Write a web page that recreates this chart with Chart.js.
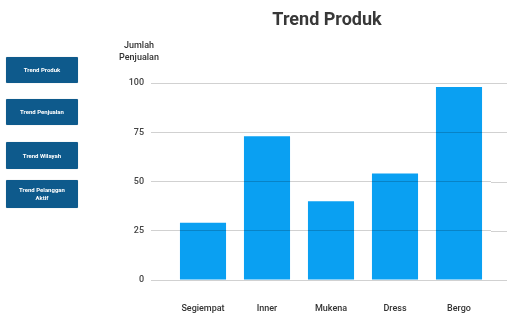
<!DOCTYPE html>
<html>
<head>
<meta charset="utf-8">
<script src="https://cdn.jsdelivr.net/npm/chart.js@4/dist/chart.umd.min.js"></script>
<style>
  html, body { margin: 0; padding: 0; background: #fff; }
  body { width: 507px; height: 321px; position: relative; overflow: hidden; font-family: Roboto, sans-serif; }
  #wrap { position: absolute; left: 0; top: 0; width: 507px; height: 321px; }
  .menu {
    position: absolute; left: 6px; width: 72px;
    background: #0e5a8c; color: #fff; border-radius: 1px;
    font-size: 6px; font-weight: 700; text-align: center;
    display: flex; align-items: center; justify-content: center; line-height: 8px;
    box-shadow: 0 0 1px rgba(0,0,0,0.3);
  }
</style>
</head>
<body>
<div id="wrap"><canvas id="chartProduk" width="507" height="321"></canvas></div>
<div class="menu" style="top:57px;height:26px">Trend Produk</div>
<div class="menu" style="top:99px;height:26px">Trend Penjualan</div>
<div class="menu" style="top:142px;height:27px">Trend Wilayah</div>
<div class="menu" style="top:180px;height:28px">Trend Pelanggan<br>Aktif</div>
<script>
// Data produk
const produk = ['Segiempat', 'Inner', 'Mukena', 'Dress', 'Bergo'];
const penjualan = [29, 73, 40, 54, 98];
const yTicks = [0, 25, 50, 75, 100];

// Judul dan label sumbu y digambar manual supaya posisinya pas
const teksTambahan = {
  id: 'teksTambahan',
  afterDraw(chart) {
    const ctx = chart.ctx;
    const area = chart.chartArea;
    ctx.save();
    ctx.fillStyle = '#383838';
    ctx.font = 'bold 18px Roboto';
    ctx.textAlign = 'center';
    ctx.textBaseline = 'alphabetic';
    ctx.fillText('Trend Produk', 327, 25);

    ctx.fillStyle = '#333';
    ctx.font = '500 9px Roboto';
    ctx.fillText('Jumlah', 139, 48);
    ctx.fillText('Penjualan', 139, 60);

    // garis grid diteruskan sampai tepi kanan
    const y = chart.scales.y;
    ctx.strokeStyle = 'rgba(0,0,0,0.18)';
    ctx.lineWidth = 1;
    yTicks.forEach(v => {
      const py = Math.round(y.getPixelForValue(v)) + 0.5;
      ctx.beginPath();
      ctx.moveTo(area.right, py);
      ctx.lineTo(chart.width, py);
      ctx.stroke();
    });
    ctx.restore();
  }
};

new Chart(document.getElementById('chartProduk'), {
  type: 'bar',
  data: {
    labels: produk,
    datasets: [{
      label: 'Jumlah Penjualan',
      data: penjualan,
      backgroundColor: '#0aa0f2',
      barPercentage: 0.72,
      categoryPercentage: 1
    }]
  },
  options: {
    responsive: false,
    animation: false,
    layout: { padding: { top: 83, right: 16, left: 0, bottom: 0 } },
    plugins: {
      legend: { display: false },
      title: { display: false },
      tooltip: { enabled: false }
    },
    scales: {
      x: {
        grid: { display: false },
        border: { display: false },
        ticks: { color: '#333', font: { family: 'Roboto', size: 9, weight: '500' }, padding: 15 },
        afterFit(scale) { scale.height = 41; }
      },
      y: {
        min: 0,
        max: 100,
        afterBuildTicks(scale) { scale.ticks = yTicks.map(v => ({ value: v })); },
        grid: { color: 'rgba(0,0,0,0.18)', z: 1, tickLength: 20 },
        border: { display: false },
        ticks: { color: '#444', font: { family: 'Roboto', size: 9, weight: '500' }, padding: 7 },
        afterFit(scale) { scale.width = 171; }
      }
    }
  },
  plugins: [teksTambahan]
});
</script>
</body>
</html>
